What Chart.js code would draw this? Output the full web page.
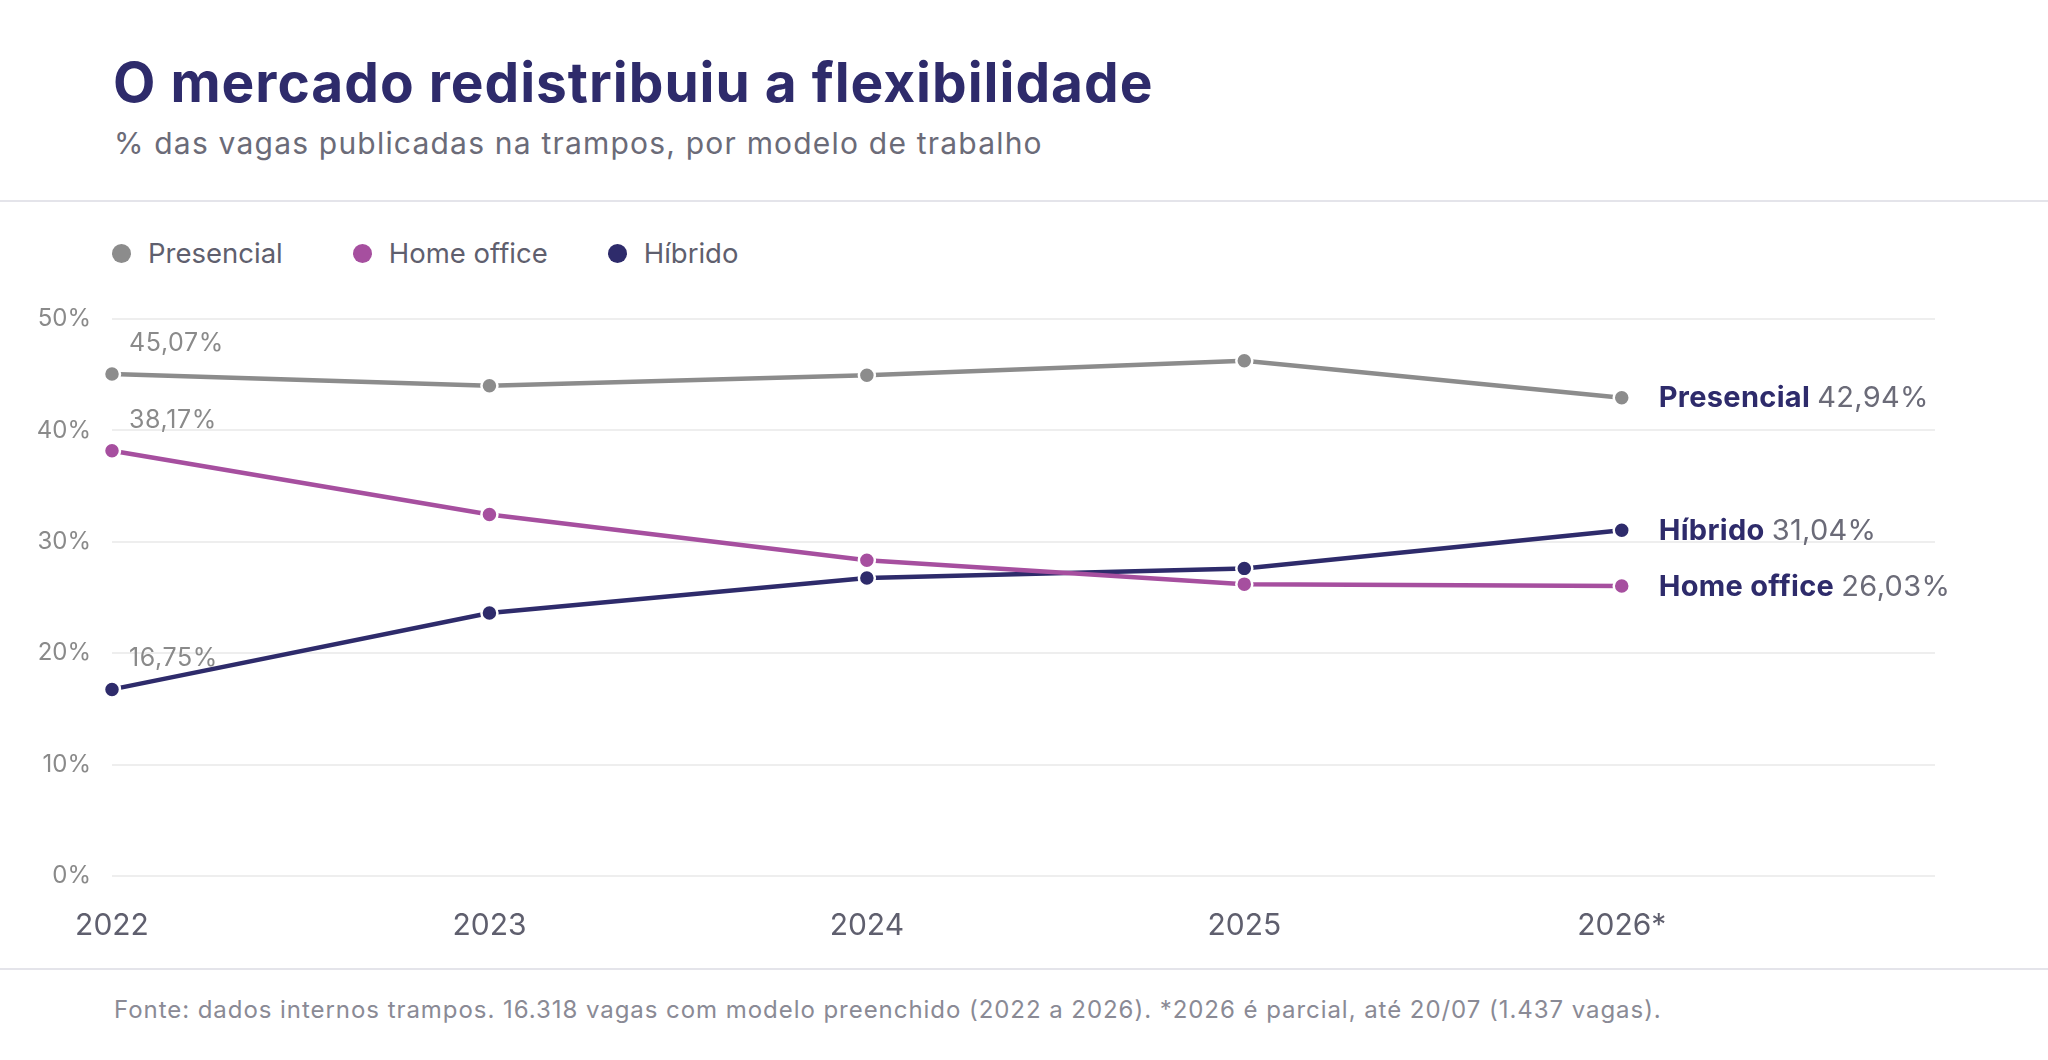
<!DOCTYPE html>
<html>
<head>
<meta charset="utf-8">
<script src="https://cdn.jsdelivr.net/npm/chart.js@4.4.1/dist/chart.umd.min.js"></script>
<style>
  html, body { margin: 0; padding: 0; background: #fff; }
  body { width: 2048px; height: 1060px; position: relative; overflow: hidden; font-family: Inter, "Noto Sans", sans-serif; }
  #title { position: absolute; left: 113px; top: 55px; margin: 0; font-size: 55px; font-weight: 700; color: #2e2b6b; letter-spacing: 1px; line-height: 1; }
  #subtitle { position: absolute; left: 114px; top: 128px; margin: 0; font-size: 30px; color: #6b6b78; letter-spacing: 1.2px; line-height: 1; }
  .sep { position: absolute; left: 0; width: 2048px; height: 2px; background: #e4e4ea; }
  #legend { position: absolute; left: 112px; top: 236px; display: flex; font-size: 27.5px; color: #5f5f6e; }
  #legend span.item { display: flex; align-items: center; margin-right: 70px; }
  #legend span.item:nth-child(2) { margin-right: 60px; }
  #legend span.dot { width: 19px; height: 19px; border-radius: 50%; margin-right: 17px; display: inline-block; }
  #wrap { position: absolute; left: 0; top: 210px; width: 2048px; height: 760px; }
  #foot { position: absolute; left: 114px; top: 998px; font-size: 24px; color: #8a8a95; letter-spacing: 0.95px; line-height: 1; }
</style>
</head>
<body>
<h1 id="title">O mercado redistribuiu a flexibilidade</h1>
<p id="subtitle">% das vagas publicadas na trampos, por modelo de trabalho</p>
<div class="sep" style="top:200px"></div>
<div id="legend"></div>
<div id="wrap"><canvas id="lineChart"></canvas></div>
<div class="sep" style="top:968px"></div>
<div id="foot">Fonte: dados internos trampos. 16.318 vagas com modelo preenchido (2022 a 2026). *2026 é parcial, até 20/07 (1.437 vagas).</div>

<script>
// dados (% das vagas)
var anos = [2022, 2023, 2024, 2025, 2026];
var rotulosAnos = ['2022', '2023', '2024', '2025', '2026*'];
var presencial = [45.07, 44.0, 44.95, 46.25, 42.94];
var homeOffice = [38.17, 32.45, 28.35, 26.2, 26.03];
var hibrido = [16.75, 23.6, 26.75, 27.6, 31.04];
var ticksY = [0, 10, 20, 30, 40, 50];

var navy = '#2e2b6b';
var cinza = '#8c8c8c';
var roxo = '#a64f9f';

var series = [
    { nome: 'Presencial', valores: presencial, cor: cinza },
    { nome: 'Home office', valores: homeOffice, cor: roxo },
    { nome: 'Híbrido', valores: hibrido, cor: navy }
];

function fmt(v) {
    return v.toFixed(2).replace('.', ',') + '%';
}

// legenda em html
var legend = document.getElementById('legend');
series.forEach(function (s) {
    var item = document.createElement('span');
    item.className = 'item';
    item.innerHTML = '<span class="dot" style="background:' + s.cor + '"></span>' + s.nome;
    legend.appendChild(item);
});

// rotulos do primeiro e do ultimo ponto
var rotulosPontos = {
    id: 'rotulosPontos',
    afterDatasetsDraw: function (chart) {
        var ctx = chart.ctx;
        ctx.save();
        chart.data.datasets.forEach(function (ds, i) {
            var meta = chart.getDatasetMeta(i);
            var first = meta.data[0];
            var last = meta.data[meta.data.length - 1];

            ctx.letterSpacing = '0.6px';
            ctx.font = '400 25px Inter';
            ctx.fillStyle = '#8a8a8a';
            ctx.textAlign = 'left';
            ctx.textBaseline = 'alphabetic';
            ctx.fillText(fmt(ds.data[0].y), first.x + 17, first.y - 23);

            var x = last.x + 37;
            ctx.textBaseline = 'middle';
            ctx.letterSpacing = '0.3px';
            ctx.font = '700 29px Inter';
            ctx.fillStyle = navy;
            ctx.fillText(ds.label, x, last.y + 1);
            var w = ctx.measureText(ds.label + ' ').width;
            ctx.font = '400 29px Inter';
            ctx.fillStyle = '#6b6b78';
            ctx.fillText(fmt(ds.data[ds.data.length - 1].y), x + w, last.y + 1);
        });
        ctx.restore();
    }
};

var LINECHART = document.getElementById('lineChart');
var myLineChart = new Chart(LINECHART, {
    type: 'line',
    data: {
        datasets: series.map(function (s) {
            return {
                label: s.nome,
                data: anos.map(function (a, i) { return { x: a, y: s.valores[i] }; }),
                borderColor: s.cor,
                backgroundColor: s.cor,
                borderWidth: 4.5,
                pointRadius: 8,
                pointBorderWidth: 2.5,
                pointBorderColor: '#ffffff',
                pointBackgroundColor: s.cor,
                tension: 0,
                clip: false
            };
        })
    },
    options: {
        responsive: true,
        maintainAspectRatio: false,
        animation: false,
        layout: { padding: { top: 109, right: 113, left: 0, bottom: 0 } },
        plugins: {
            legend: { display: false },
            tooltip: { enabled: false }
        },
        scales: {
            x: {
                type: 'linear',
                min: 2022,
                max: 2026.83,
                afterBuildTicks: function (scale) {
                    scale.ticks = anos.map(function (a) { return { value: a }; });
                },
                afterFit: function (scale) { scale.height = 94; },
                grid: { display: false, drawTicks: false },
                border: { display: false },
                ticks: {
                    autoSkip: false,
                    maxRotation: 0,
                    padding: 32,
                    color: '#5f5f6e',
                    font: { family: 'Inter', size: 30 },
                    callback: function (v, i) { return rotulosAnos[i]; }
                }
            },
            y: {
                min: 0,
                max: 50,
                afterBuildTicks: function (scale) {
                    scale.ticks = ticksY.map(function (t) { return { value: t }; });
                },
                afterFit: function (scale) { scale.width = 112; },
                grid: { color: '#eeeeee', lineWidth: 2, drawTicks: false },
                border: { display: false },
                ticks: {
                    padding: 21,
                    color: '#8a8a8a',
                    font: { family: 'Inter', size: 24 },
                    callback: function (v) { return v + '%'; }
                }
            }
        }
    },
    plugins: [rotulosPontos]
});
</script>
</body>
</html>
